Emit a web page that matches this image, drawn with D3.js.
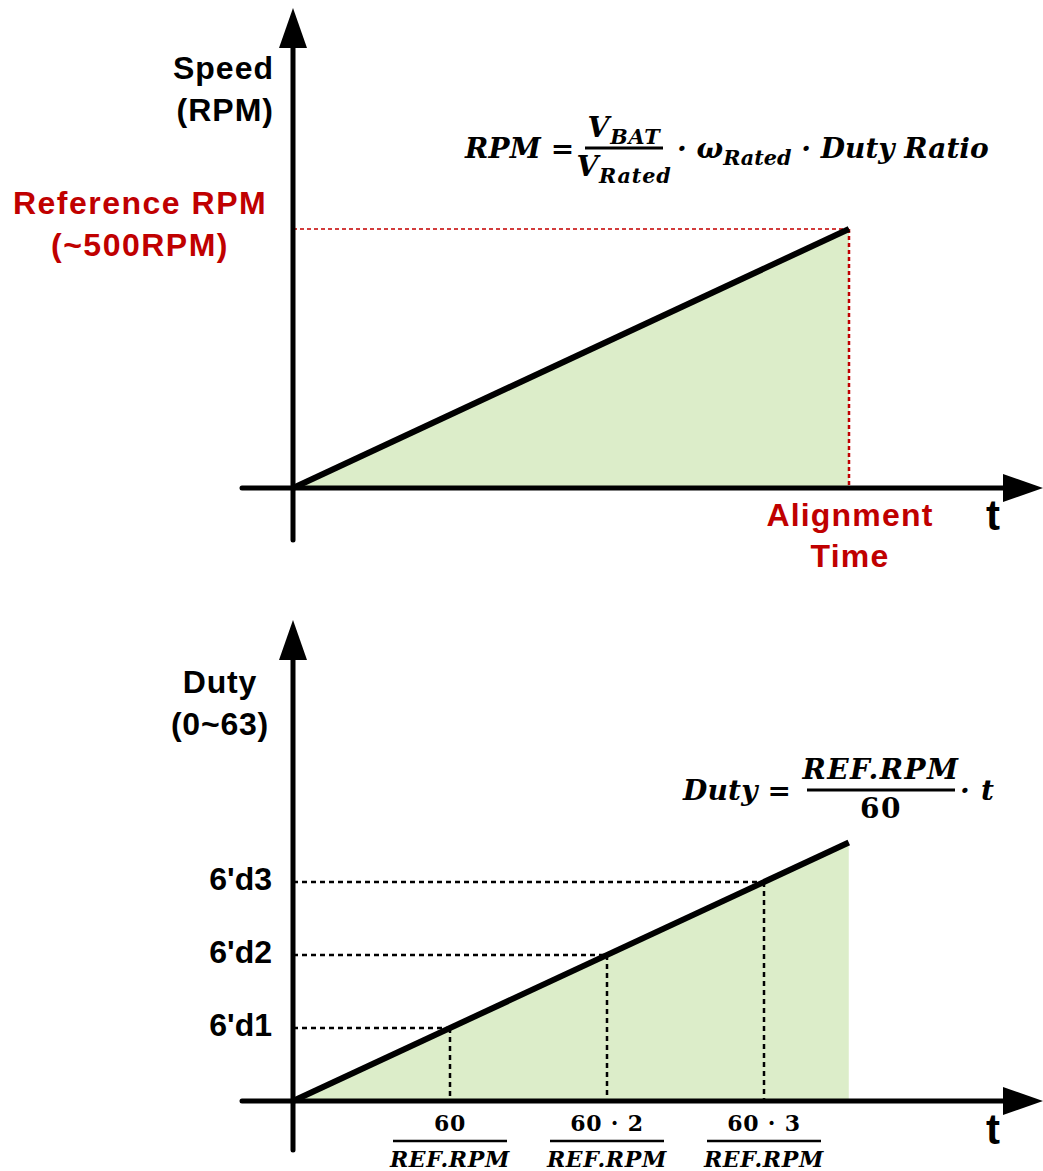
<!DOCTYPE html>
<html>
<head>
<meta charset="utf-8">
<script src="https://cdn.jsdelivr.net/npm/d3@7"></script>
<style>
  html, body { margin: 0; padding: 0; background: #fff; }
  svg { display: block; }
  .lbl { font-family: "Liberation Sans", Arial, sans-serif; font-weight: bold; }
  .math { font-family: "DejaVu Serif", "Liberation Serif", serif; font-weight: bold; font-style: italic; }
</style>
</head>
<body>
<svg id="chart" width="1043" height="1171"></svg>
<script>
// ---- data ----
// Speed ramp during alignment (time normalised to the alignment time)
const speedTime = [0, 1];
const speedRPM = [0, 500];
const refRPM = 500;

// Duty ramp (time in units of 60 / REF.RPM)
const dutyTime = [0, 3.54];
const dutyValue = [0, 3.54];
const dutySteps = [1, 2, 3];
const dutyTickLabels = ["6'd1", "6'd2", "6'd3"];
const timeTickNumerators = ["60", "60 · 2", "60 · 3"];
const timeTickDenominator = "REF.RPM";

const GREEN = "#dcedc9";
const RED = "#c00000";

const svg = d3.select("#chart");

// ---- helpers ----
function arrowAxes(g, ox, oy, yTip, yBottom, xLeft, xTip) {
  const ah = 40, aw = 14;
  g.append("line").attr("x1", ox).attr("x2", ox).attr("y1", yBottom).attr("y2", yTip + ah - 2)
    .attr("stroke", "#000").attr("stroke-width", 5).attr("stroke-linecap", "round");
  g.append("path").attr("d", `M${ox},${yTip} L${ox - aw},${yTip + ah} L${ox + aw},${yTip + ah} Z`).attr("fill", "#000");
  g.append("line").attr("x1", xLeft).attr("x2", xTip - ah + 2).attr("y1", oy).attr("y2", oy)
    .attr("stroke", "#000").attr("stroke-width", 5).attr("stroke-linecap", "round");
  g.append("path").attr("d", `M${xTip},${oy} L${xTip - ah},${oy - aw} L${xTip - ah},${oy + aw} Z`).attr("fill", "#000");
}

function label(g, x, y, text, opts = {}) {
  return g.append("text").attr("class", "lbl").attr("x", x).attr("y", y)
    .attr("text-anchor", opts.anchor || "middle").attr("dominant-baseline", "middle")
    .attr("font-size", opts.size || 32).attr("letter-spacing", opts.ls ?? 1)
    .attr("fill", opts.color || "#000").text(text);
}

// parts: [{t, sub, up}] -> italic math text; sub = subscript, up = upright glyphs
function mathText(g, x, y, parts, size, anchor, ls) {
  const t = g.append("text").attr("class", "math").attr("x", x).attr("y", y)
    .attr("font-size", size).attr("text-anchor", anchor || "start")
    .attr("letter-spacing", ls ?? 0.8).style("white-space", "pre");
  let down = false;
  parts.forEach(p => {
    const s = t.append("tspan").text(p.t);
    if (p.up) s.attr("font-style", "normal");
    if (p.sub) {
      s.attr("font-size", size * 0.74);
      if (!down) { s.attr("dy", size * 0.24); down = true; }
    } else if (down) { s.attr("dy", -size * 0.24); down = false; }
  });
  return t;
}

function fraction(g, cx, yBar, num, den, size, halfW, ls) {
  mathText(g, cx, yBar - 11, num, size, "middle", ls);
  g.append("line").attr("x1", cx - halfW).attr("x2", cx + halfW).attr("y1", yBar).attr("y2", yBar)
    .attr("stroke", "#000").attr("stroke-width", 3);
  mathText(g, cx, yBar + size * 1.0, den, size, "middle", ls);
}

// ================= Top panel: speed =================
const gTop = svg.append("g");
const xTop = d3.scaleLinear().domain([0, 1]).range([293, 849]);
const yTop = d3.scaleLinear().domain([0, refRPM]).range([488, 229]);
const speedPts = speedTime.map((t, i) => [t, speedRPM[i]]);

gTop.append("path")
  .attr("d", d3.area().x(d => xTop(d[0])).y0(yTop(0)).y1(d => yTop(d[1]))(speedPts))
  .attr("fill", GREEN);

// reference level and alignment time guides
gTop.append("line").attr("x1", xTop(0)).attr("x2", xTop(1)).attr("y1", yTop(refRPM)).attr("y2", yTop(refRPM))
  .attr("stroke", "#d23c3c").attr("stroke-width", 2).attr("stroke-dasharray", "4,3");
gTop.append("line").attr("x1", xTop(1)).attr("x2", xTop(1)).attr("y1", yTop(refRPM)).attr("y2", yTop(0))
  .attr("stroke", RED).attr("stroke-width", 2.5).attr("stroke-dasharray", "4,3");

gTop.append("path")
  .attr("d", d3.line().x(d => xTop(d[0])).y(d => yTop(d[1]))(speedPts))
  .attr("fill", "none").attr("stroke", "#000").attr("stroke-width", 6);

arrowAxes(gTop, xTop(0), yTop(0), 8, 540, 242, 1043);

label(gTop, 274, 71, "Speed", { anchor: "end" });
label(gTop, 274, 113, "(RPM)", { anchor: "end" });
label(gTop, 140, 206, "Reference RPM", { color: RED, size: 32, ls: 1.5 });
label(gTop, 140, 248, "(~500RPM)", { color: RED, size: 32, ls: 1.5 });
label(gTop, 850, 518, "Alignment", { color: RED, size: 32, ls: 1.2 });
label(gTop, 850, 559, "Time", { color: RED, size: 32, ls: 1.2 });
label(gTop, 993, 519, "t", { size: 42, ls: 0 });

// speed formula
const fTop = gTop.append("g");
mathText(fTop, 465, 158, [{ t: "RPM =" }], 28, "start", 0.2);
fraction(fTop, 624, 148, [{ t: "V" }, { t: "BAT", sub: true }], [{ t: "V" }, { t: "Rated", sub: true }], 28, 39);
mathText(fTop, 677, 158, [{ t: "· ω", }, { t: "Rated", sub: true }, { t: " · Duty Ratio" }], 28, "start", 0);

// ================= Bottom panel: duty =================
const gBot = svg.append("g");
const xBot = d3.scaleLinear().domain([0, 1]).range([293, 450]);
const yBot = d3.scaleLinear().domain([0, 1]).range([1101, 1028]);
const dutyPts = dutyTime.map((t, i) => [t, dutyValue[i]]);

gBot.append("path")
  .attr("d", d3.area().x(d => xBot(d[0])).y0(yBot(0)).y1(d => yBot(d[1]))(dutyPts))
  .attr("fill", GREEN);

dutySteps.forEach((s, i) => {
  gBot.append("line").attr("x1", xBot(0)).attr("x2", xBot(s)).attr("y1", yBot(s)).attr("y2", yBot(s))
    .attr("stroke", "#000").attr("stroke-width", 2.5).attr("stroke-dasharray", "5,4");
  gBot.append("line").attr("x1", xBot(s)).attr("x2", xBot(s)).attr("y1", yBot(s)).attr("y2", yBot(0))
    .attr("stroke", "#000").attr("stroke-width", 2.5).attr("stroke-dasharray", "5,4");
  label(gBot, 272, yBot(s), dutyTickLabels[i], { anchor: "end", ls: 0, size: 32 });
  const cx = xBot(s);
  mathText(gBot, cx, 1131, [{ t: timeTickNumerators[i], up: true }], 22, "middle");
  gBot.append("line").attr("x1", cx - 57).attr("x2", cx + 57).attr("y1", 1141).attr("y2", 1141)
    .attr("stroke", "#000").attr("stroke-width", 2.5);
  mathText(gBot, cx, 1167, [{ t: timeTickDenominator }], 22, "middle", 0.7);
});

gBot.append("path")
  .attr("d", d3.line().x(d => xBot(d[0])).y(d => yBot(d[1]))(dutyPts))
  .attr("fill", "none").attr("stroke", "#000").attr("stroke-width", 6);

arrowAxes(gBot, xBot(0), yBot(0), 620, 1150, 242, 1043);

label(gBot, 220, 685, "Duty", { ls: 0.8 });
label(gBot, 220, 727, "(0~63)", { ls: 0.8 });
label(gBot, 993, 1133, "t", { size: 42, ls: 0 });

// duty formula
const fBot = gBot.append("g");
mathText(fBot, 683, 800, [{ t: "Duty =" }], 28, "start", 0.2);
fraction(fBot, 881, 790, [{ t: "REF.RPM" }], [{ t: "60", up: true }], 28, 74, 1.5);
mathText(fBot, 960, 800, [{ t: "· t" }], 28);
</script>
</body>
</html>
